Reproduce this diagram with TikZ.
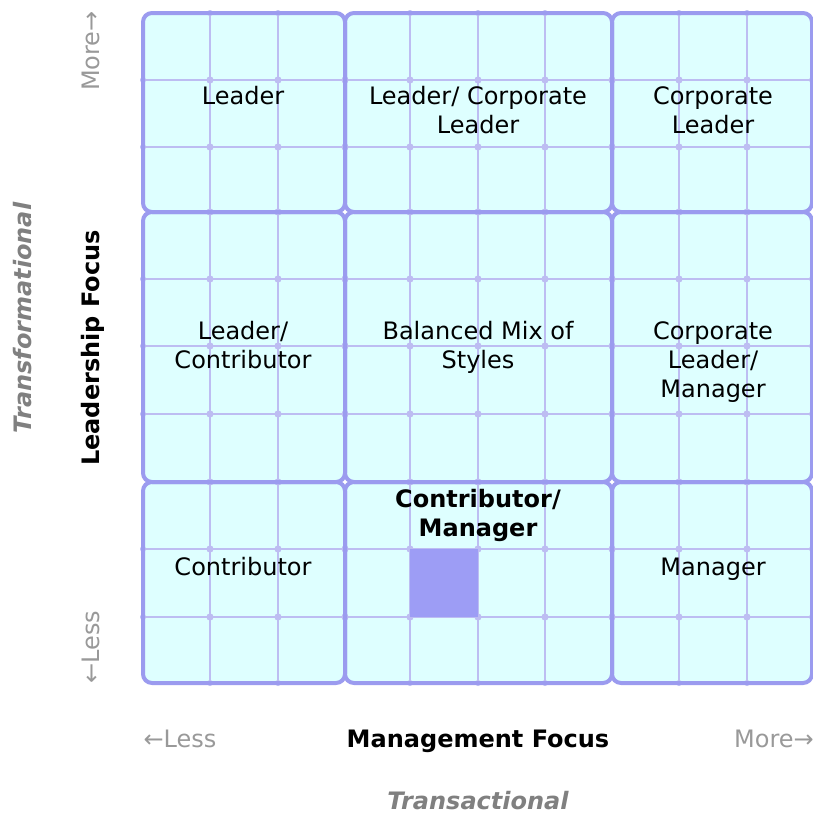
\documentclass[tikz,border=0pt]{standalone}
\usepackage{fontspec}
\setmainfont{DejaVu Sans}
\definecolor{cellfill}{HTML}{DEFFFF}
\definecolor{bordercol}{HTML}{9B9BEF}
\definecolor{innercol}{HTML}{BDBDF2}
\definecolor{axisgray}{HTML}{999999}
\definecolor{titlegray}{HTML}{808080}
\definecolor{markfill}{HTML}{9D9DF5}
\tikzset{
  blockfill/.style={fill=cellfill, rounded corners=9pt},
  blockborder/.style={draw=bordercol, line width=4pt, rounded corners=9pt},
  innerline/.style={draw=innercol, line width=2.4pt},
  innerdot/.style={fill=innercol},
  celltext/.style={align=center, inner sep=0pt, font=\fontsize{24}{29}\selectfont},
  boldcell/.style={celltext, font=\fontsize{24}{29}\selectfont\bfseries},
  axistitle/.style={inner sep=0pt, font=\fontsize{24}{29}\selectfont\bfseries},
  axisend/.style={inner sep=0pt, text=axisgray, font=\fontsize{24}{29}\selectfont},
  axisstyle/.style={inner sep=0pt, text=titlegray, font=\fontsize{24}{29}\selectfont\bfseries\itshape},
}
\begin{document}
\begin{tikzpicture}[x=1pt,y=-1pt]
\useasboundingbox (0,0) rectangle (813,814);
% block fills
\foreach \xa/\xb in {143/345,345/612,612/812}
  \foreach \ya/\yb in {13/212,212/482,482/683}
    \fill[blockfill] (\xa,\ya) rectangle (\xb,\yb);
% inner grid lines
\foreach \v in {210,278,410,478,545,679,747}
  \draw[innerline] (\v,13) -- (\v,683);
\foreach \h in {80,147,279,346,414,549,617}
  \draw[innerline] (143,\h) -- (812,\h);
% dots at crossings
\foreach \v in {210,278,410,478,545,679,747}
  \foreach \h in {80,147,212,279,346,414,482,549,617}
    \fill[innerdot] (\v,\h) circle (3.6pt);
\foreach \v in {210,278,410,478,545,679,747}
  \foreach \h in {13,683}
    \fill[innerdot] (\v,\h) circle (3pt);
\foreach \v in {345,612}
  \foreach \h in {80,147,279,346,414,549,617}
    \fill[innerdot] (\v,\h) circle (3.6pt);
\foreach \v in {143,812}
  \foreach \h in {80,147,279,346,414,549,617}
    \fill[innerdot] (\v,\h) circle (3pt);
% marked square
\fill[markfill] (410,549) rectangle (478,617);
% block borders
\foreach \xa/\xb in {143/345,345/612,612/812}
  \foreach \ya/\yb in {13/212,212/482,482/683}
    \draw[blockborder] (\xa,\ya) rectangle (\xb,\yb);
% cell labels
\node[celltext, anchor=base] (leader) at (243,104) {Leader};
\node[celltext] (leadercorp) at (478,110) {Leader/ Corporate\\Leader};
\node[celltext] (corp) at (713,110) {Corporate\\Leader};
\node[celltext] (leadercontr) at (243,345) {Leader/\\Contributor};
\node[celltext] (balanced) at (478,347.5) {Balanced Mix of\\Styles};
\node[celltext] (corpman) at (713,362) {Corporate\\Leader/\\Manager};
\node[celltext, anchor=base] (contr) at (243,575) {Contributor};
\node[boldcell] (contrman) at (478,515) {Contributor/\\Manager};
\node[celltext, anchor=base] (manager) at (713,575) {Manager};
% axis labels bottom
\node[axisend, anchor=base] (xless) at (180,747) {←Less};
\node[axistitle, anchor=base] (xtitle) at (478,747) {Management Focus};
\node[axisend, anchor=base] (xmore) at (774,747) {More→};
\node[axisstyle, anchor=base] (xstyle) at (478,809) {Transactional};
% axis labels left
\node[axisend, anchor=base, rotate=90] (ymore) at (99,51) {More→};
\node[axistitle, anchor=base, rotate=90] (ytitle) at (99,348) {Leadership Focus};
\node[axisend, anchor=base, rotate=90] (yless) at (99,647) {←Less};
\node[axisstyle, anchor=base, rotate=90] (ystyle) at (31,318) {Transformational};
\end{tikzpicture}
\end{document}
